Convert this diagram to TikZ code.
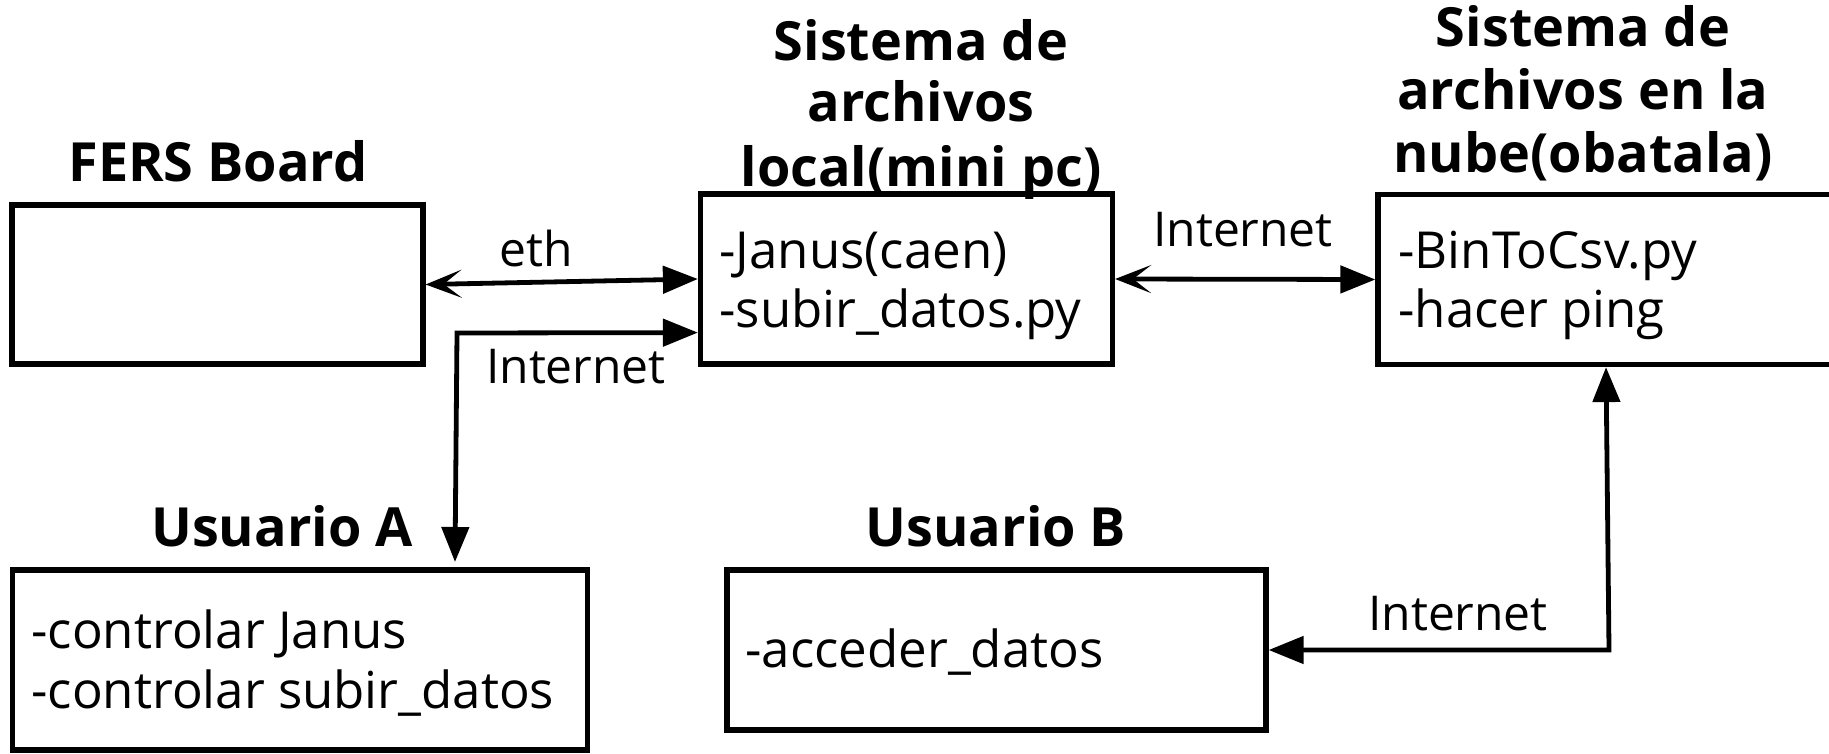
\documentclass[tikz,border=0pt]{standalone}
\usepackage{fontspec}
\setmainfont{Open Sans}
\usetikzlibrary{arrows.meta}
\begin{document}
\begin{tikzpicture}[x=0.5pt,y=-0.5pt,
  box/.style={draw, line width=2.6pt, rectangle, inner sep=0pt},
  title/.style={font=\fontsize{27}{32}\selectfont\bfseries, anchor=base, inner sep=0pt},
  txt/.style={font=\fontsize{25.5}{30}\selectfont, anchor=base west, inner sep=0pt},
  lbl/.style={font=\fontsize{24}{29}\selectfont, anchor=base, inner sep=0pt},
  conn/.style={line width=2.4pt},
  tritip/.tip={Triangle[length=17.5pt,width=13.5pt]},
  stltip/.tip={Stealth[length=18pt,width=14pt,inset=9pt]}
]
\useasboundingbox (0,0) rectangle (1829,754);

% boxes
\node[box, minimum width=205.5pt, minimum height=79.5pt] (fers) at (217.5,284.5) {};
\node[box, minimum width=206pt, minimum height=85pt] (local) at (906.5,279) {};
\node[box, minimum width=236pt, minimum height=85pt] (cloud) at (1614,279.5) {};
\node[box, minimum width=287.75pt, minimum height=90pt] (ua) at (300,660) {};
\node[box, minimum width=269.5pt, minimum height=80pt] (ub) at (996.5,650) {};

% titles
\node[title] (tfers) at (218,182) {FERS Board};
\node[title] (tloc1) at (921,61) {Sistema de};
\node[title] (tloc2) at (921,122) {archivos};
\node[title] (tloc3) at (921,187) {local(mini pc)};
\node[title] (tcl1) at (1583,47) {Sistema de};
\node[title] (tcl2) at (1583,110) {archivos en la};
\node[title] (tcl3) at (1583,173) {nube(obatala)};
\node[title] (tua) at (282,546) {Usuario A};
\node[title] (tub) at (996,546) {Usuario B};

% box contents
\node[txt] (loc1) at (719,268) {-Janus(caen)};
\node[txt] (loc2) at (719,327) {-subir\_datos.py};
\node[txt] (cl1) at (1398,268) {-BinToCsv.py};
\node[txt] (cl2) at (1398,327) {-hacer ping};
\node[txt] (ua1) at (31,648) {-controlar Janus};
\node[txt] (ua2) at (31,708) {-controlar subir\_datos};
\node[txt] (ub1) at (745,667) {-acceder\_datos};

% connectors
\draw[conn, stltip-tritip] (fers.east) -- (local.west);
\node[lbl] (leth) at (536,266) {eth};

\coordinate (acorner) at (457,333);
\coordinate (atip) at (455,562);
\draw[conn, tritip-tritip] (atip) -- (acorner) -- ([yshift=17pt]local.south west);
\node[lbl] (lia) at (576,383) {Internet};

\draw[conn, stltip-tritip] (local.east) -- (cloud.west);
\node[lbl] (lic) at (1243,247) {Internet};

\coordinate (bcorner) at (1609,650);
\draw[conn, tritip-tritip] (ub.east) -- (bcorner) -- ([xshift=-4pt]cloud.south);
\node[lbl] (lib) at (1458,630) {Internet};
\end{tikzpicture}
\end{document}
